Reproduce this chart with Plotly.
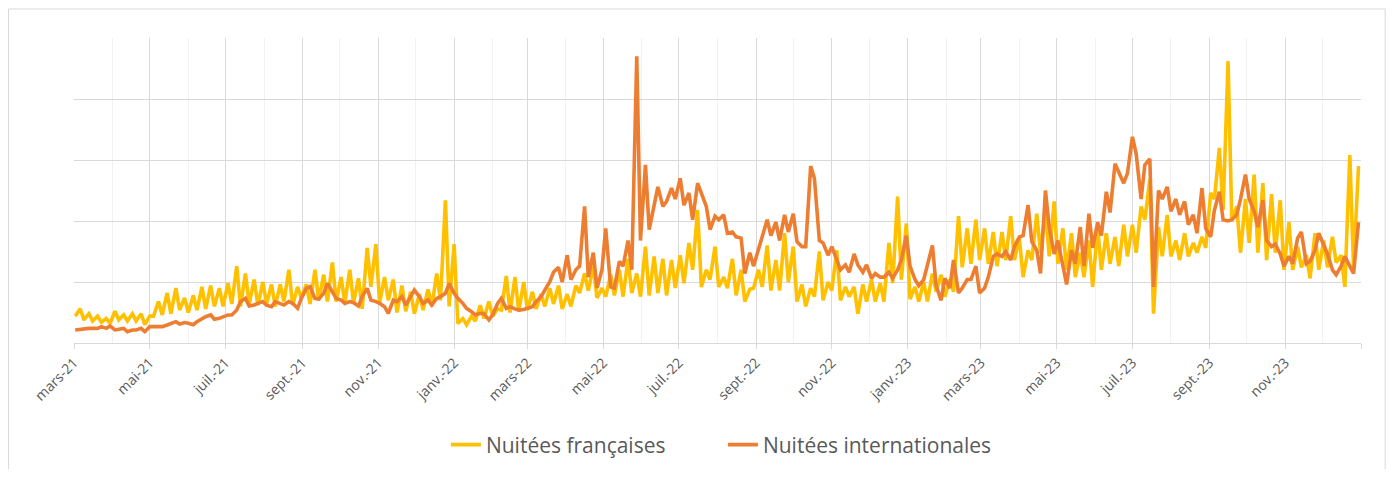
import pandas as pd
import plotly.graph_objects as go

# Weekly readings (week k starts Monday 2021-03-01 + 7k); one value mid-week (Tue), one at the weekend (Sat)
WEEK_START = "2021-03-01"

FR_LOW = [
    22, 19, 18, 17, 16, 19, 18, 18, 15, 22,
    23, 24, 27, 25, 27, 28, 30, 30, 32, 30,
    32, 31, 32, 30, 34, 31, 37, 32, 35, 34,
    34, 33, 33, 28, 46, 33, 35, 25, 26, 24,
    27, 30, 35, 30, 16, 15, 18, 20, 22, 27,
    25, 26, 27, 28, 30, 32, 28, 30, 41, 43,
    37, 38, 39, 38, 41, 38, 39, 41, 39, 45,
    49, 60, 46, 52, 46, 45, 39, 34, 45, 46,
    43, 43, 50, 34, 30, 38, 35, 43, 35, 38,
    24, 34, 34, 34, 49, 52, 36, 34, 34, 42,
    38, 42, 62, 65, 68, 65, 63, 68, 68, 54,
    68, 74, 71, 65, 60, 54, 54, 46, 60, 65,
    63, 71, 74, 101, 24, 71, 71, 68, 71, 74,
    78, 118, 109, 100, 74, 82, 74, 68, 74, 60,
    60, 62, 53, 60, 62, 66, 46, 62,
]

FR_PEAK = [
    28, 24, 22, 20, 26, 23, 24, 24, 22, 34,
    41, 45, 37, 39, 46, 47, 45, 49, 63, 57,
    52, 50, 48, 48, 60, 46, 48, 60, 56, 66,
    54, 60, 53, 78, 81, 54, 52, 47, 42, 40,
    44, 57, 117, 81, 20, 22, 31, 34, 28, 55,
    54, 50, 42, 40, 45, 47, 40, 47, 57, 63,
    45, 56, 60, 69, 57, 79, 71, 69, 68, 72,
    82, 109, 60, 79, 54, 69, 60, 44, 60, 80,
    68, 90, 79, 48, 45, 75, 50, 76, 46, 46,
    48, 52, 49, 82, 120, 98, 46, 50, 57, 56,
    52, 104, 94, 101, 94, 91, 91, 104, 86, 76,
    106, 109, 116, 94, 90, 74, 84, 95, 90, 87,
    97, 97, 112, 134, 95, 105, 84, 90, 82, 87,
    123, 160, 231, 112, 118, 138, 131, 122, 117, 99,
    79, 72, 90, 84, 87, 72, 154, 145,
]

INT_TUE = [
    10.7, 12, 12, 13.4, 13.9, 11.2, 9.3, 10.7, 9.3, 13.4,
    13.4, 16.1, 15.5, 16.1, 17.5, 21.6, 19.5, 21.6, 23, 33.9,
    30.3, 32.5, 31, 33.9, 31.1, 32.5, 36.6, 46.2, 36, 48.9,
    36.6, 32.5, 33, 38, 35.2, 32.5, 24.3, 33.9, 31.1, 43.4,
    32.5, 31.1, 38, 48.9, 36.6, 28.4, 23, 24, 23, 36.6,
    29.8, 27, 28.4, 33.9, 43.4, 58, 50, 52, 63, 54,
    45, 94, 45, 63, 60, 84, 93, 128, 116, 118,
    113, 101, 123, 93, 101, 90, 87, 57, 63, 87,
    88, 84, 91, 83, 79, 135, 82, 79, 60, 58,
    64, 64, 57, 54, 53, 68, 63, 47, 65, 47,
    53, 68, 45, 52, 41, 54, 73, 75, 79, 88,
    83, 57, 95, 84, 48, 65, 63, 78, 88, 107,
    140, 139, 155, 146, 46, 118, 108, 105, 97, 90,
    94, 109, 101, 101, 118, 118, 95, 84, 81, 63,
    65, 91, 67, 90, 73, 56, 71, 57,
]

INT_SAT = [
    11.2, 12, 12, 12, 10.7, 12, 10.7, 12, 13.4, 13.4,
    14.8, 17.5, 16.8, 15, 20.2, 23, 20.2, 23, 27, 36.6,
    31.1, 33.9, 29.8, 32.5, 33.9, 28.4, 44.8, 36.6, 40.7, 42,
    35.2, 33.9, 30.3, 44.8, 33.9, 29.8, 35.2, 38, 38, 38,
    35.2, 36.6, 40.7, 40.7, 32.5, 25.7, 24.3, 19, 32.5, 28.4,
    28, 27.5, 29.8, 38, 50.3, 62, 72, 60, 112, 74,
    60, 46, 67, 84, 235, 146, 112, 112, 127, 135,
    123, 131, 112, 104, 105, 91, 86, 74, 76, 101,
    99, 105, 106, 79, 145, 84, 72, 69, 64, 73,
    58, 53, 54, 58, 60, 88, 52, 52, 80, 35,
    45, 41, 52, 63, 45, 71, 71, 68, 87, 113,
    76, 125, 73, 65, 76, 95, 106, 99, 124, 147,
    131, 169, 118, 151, 125, 128, 118, 116, 105, 127,
    87, 124, 100, 105, 138, 108, 117, 79, 73, 71,
    86, 65, 76, 80, 60, 63, 63, 99,
]

TICK_DATES = [
    "2021-03-01", "2021-05-01", "2021-07-01", "2021-09-01", "2021-11-01",
    "2022-01-01", "2022-03-01", "2022-05-01", "2022-07-01", "2022-09-01", "2022-11-01",
    "2023-01-01", "2023-03-01", "2023-05-01", "2023-07-01", "2023-09-01", "2023-11-01",
    "2024-01-01",
]
TICK_LABELS = [
    "mars-21", "mai-21", "juil.-21", "sept.-21", "nov.-21",
    "janv.-22", "mars-22", "mai-22", "juil.-22", "sept.-22", "nov.-22",
    "janv.-23", "mars-23", "mai-23", "juil.-23", "sept.-23", "nov.-23",
    "",
]

SERIES_NAMES = ["Nuitées françaises", "Nuitées internationales"]
COLORS = ["#FFC000", "#ED7D31"]

# ---- build dated series from weekly readings ----
start = pd.Timestamp(WEEK_START)
dates, fr, intl = [], [], []
for k in range(len(FR_LOW)):
    dates += [start + pd.Timedelta(days=7 * k + 1), start + pd.Timedelta(days=7 * k + 5)]
    fr += [FR_LOW[k], FR_PEAK[k]]
    intl += [INT_TUE[k], INT_SAT[k]]

minor_months = pd.date_range("2021-04-01", "2023-12-01", freq="2MS")

FONT = "Open Sans"
GRAY_TXT = "#595959"
FRAME = "#D9D9D9"

fig = go.Figure()
fig.add_trace(go.Scatter(x=dates, y=fr, mode="lines", name=SERIES_NAMES[0],
                         line=dict(color=COLORS[0], width=3.6)))
fig.add_trace(go.Scatter(x=dates, y=intl, mode="lines", name=SERIES_NAMES[1],
                         line=dict(color=COLORS[1], width=3.6)))

# page body has an 8px margin: screen = 8 + figure coordinates
OFF = 8
W, H = 1394 - 2 * OFF, 477 - 2 * OFF
PL, PT, PR, PB = 74, 38, 1361.3, 343          # plot area in screen pixels
L, T = PL - OFF, PT - OFF
R = W - (PR - OFF)
B = H - (PB - OFF)
pw, ph = PR - PL, PB - PT


def px_x(x):
    return (x - PL) / pw


def px_y(y):
    return (PB - y) / ph


fx0, fx1 = px_x(OFF + 0.5), px_x(OFF + W - 0.5)
fy_top, fy_bot = px_y(9), px_y(500)
frame_lines = [
    dict(type="line", xref="paper", yref="paper", x0=fx0, x1=fx0, y0=fy_bot, y1=fy_top,
         line=dict(color=FRAME, width=1), layer="below"),
    dict(type="line", xref="paper", yref="paper", x0=fx0, x1=fx1, y0=fy_top, y1=fy_top,
         line=dict(color=FRAME, width=1), layer="below"),
    dict(type="line", xref="paper", yref="paper", x0=fx1, x1=fx1, y0=fy_bot, y1=fy_top,
         line=dict(color=FRAME, width=1), layer="below"),
]

fig.update_layout(
    template="none",
    width=W, height=H,
    margin=dict(l=L, r=R, t=T, b=B, pad=0, autoexpand=False),
    paper_bgcolor="white", plot_bgcolor="white",
    font=dict(family=FONT, color=GRAY_TXT),
    showlegend=True,
    legend=dict(orientation="h", x=px_x(446), xanchor="left", y=px_y(445), yanchor="middle",
                font=dict(size=21, color=GRAY_TXT, family=FONT), bgcolor="rgba(0,0,0,0)",
                borderwidth=0,
                traceorder="normal", entrywidth=232, entrywidthmode="pixels"),
    xaxis=dict(
        type="date",
        range=["2021-03-01", "2024-01-01"],
        tickmode="array", tickvals=TICK_DATES, ticktext=TICK_LABELS,
        tickangle=-45, tickfont=dict(size=14, color=GRAY_TXT, family=FONT),
        showgrid=True, gridcolor="#D9D9D9", gridwidth=1,
        showline=True, linecolor="#D9D9D9", linewidth=1,
        ticks="outside", ticklen=5, tickcolor="#D9D9D9", tickwidth=1,
        minor=dict(tickvals=list(minor_months), showgrid=True, gridcolor="#F2F2F2", ticks=""),
        zeroline=False, fixedrange=True, automargin=False,
    ),
    yaxis=dict(
        range=[0, 250], dtick=50, tick0=0, tickmode="linear",
        showticklabels=False, ticks="",
        showgrid=True, gridcolor="#D9D9D9", gridwidth=1,
        zeroline=False, showline=False, fixedrange=True, automargin=False,
    ),
    shapes=frame_lines,
)

fig.write_html("out.html")
